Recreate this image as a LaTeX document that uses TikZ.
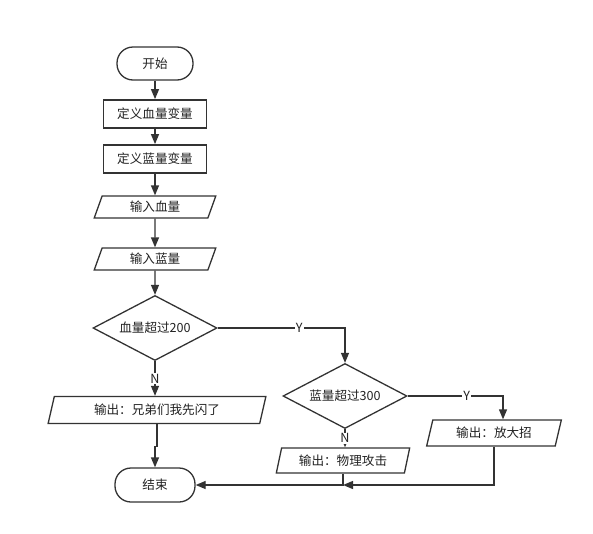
\documentclass[tikz,border=0pt]{standalone}
\usepackage{fontspec}
\setmainfont{Noto Sans CJK SC}
\usepackage{tikz}
\usetikzlibrary{shapes.geometric, arrows.meta, positioning}
\definecolor{lineclr}{HTML}{333333}
\definecolor{textclr}{HTML}{222222}

\begin{document}
\begin{tikzpicture}[x=1pt, y=-1pt,
    font=\fontsize{12.6}{14}\selectfont, text=textclr,
    terminal/.style={draw=lineclr, line width=1.3pt, rectangle, rounded corners=16pt,
        minimum width=76pt, minimum height=33pt, inner sep=0pt},
    process/.style={draw=lineclr, line width=1.8pt, rectangle,
        minimum width=103pt, minimum height=28pt, inner sep=0pt},
    io/.style={draw=lineclr, line width=1.3pt, trapezium, trapezium left angle=72,
        trapezium right angle=108, trapezium stretches=true, inner sep=0pt},
    decision/.style={draw=lineclr, line width=1.3pt, diamond, aspect=1.9,
        minimum width=124pt, minimum height=65pt, inner sep=1pt},
    arr/.style={draw=lineclr, line width=1.3pt, -{Triangle[length=10pt, width=8pt]}},
    lbl/.style={fill=white, inner sep=1pt, font=\fontsize{12.6}{14}\selectfont}]

    \useasboundingbox (0,0) rectangle (593,533);

    % === main column ===
    \node[terminal] (start) at (155,63.5) {开始};
    \node[process] (defhp) at (155,114) {定义血量变量};
    \node[process] (defmp) at (155,159) {定义蓝量变量};
    \node[io, minimum width=122pt, minimum height=22pt] (inhp) at (155,207) {输入血量};
    \node[io, minimum width=122pt, minimum height=22pt] (inmp) at (155,259) {输入蓝量};
    \node[decision] (chkhp) at (155,328) {血量超过200};
    \node[io, minimum width=218pt, minimum height=27pt] (outflee) at (157,410) {输出：兄弟们我先闪了};
    \node[terminal, minimum width=80pt, minimum height=34pt] (stop) at (155,485) {结束};

    % === right branch ===
    \node[decision] (chkmp) at (345,396) {蓝量超过300};
    \node[io, minimum width=135pt, minimum height=26pt] (outskill) at (494,433) {输出：放大招};
    \node[io, minimum width=134pt, minimum height=25pt] (outatk) at (343,460.5) {输出：物理攻击};
    \coordinate (joinpt) at (outatk.south |- stop.east);

    % === connectors ===
    \draw[arr] (start) -- (defhp);
    \draw[arr] (defhp) -- (defmp);
    \draw[arr] (defmp) -- (inhp);
    \draw[arr] (inhp) -- (inmp);
    \draw[arr] (inmp) -- (chkhp);
    \draw[arr] (chkhp.east) -| node[lbl, pos=0.32] {Y} (chkmp.north);
    \draw[arr] (chkhp.south) -- node[lbl, pos=0.5] {N} (chkhp.south |- outflee.north);
    \draw[arr] (chkmp.east) -| node[lbl, pos=0.31] {Y} ([xshift=9pt]outskill.north);
    \draw[arr] (chkmp.south) -- node[lbl, pos=0.5] {N} (chkmp.south |- outatk.north);
    \draw[arr] (outflee.south) -- ++(0,22) -| (stop.north);
    \draw[arr] (outatk.south) |- (stop.east);
    \draw[arr] (outskill.south) |- (joinpt);

\end{tikzpicture}
\end{document}
